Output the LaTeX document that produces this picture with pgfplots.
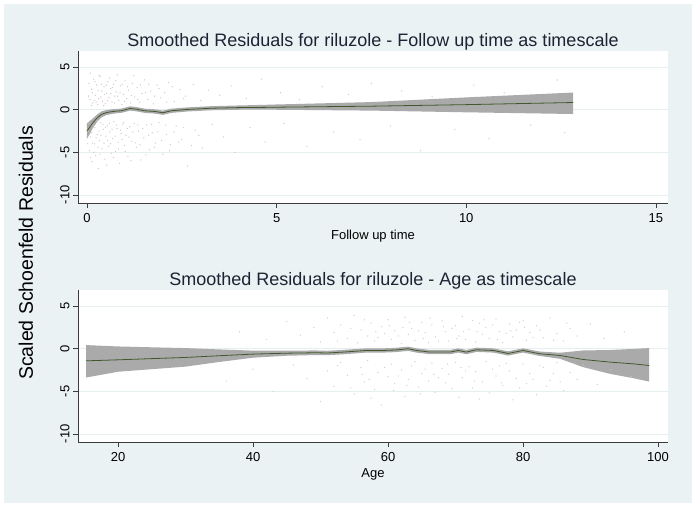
\documentclass[border=0pt]{standalone}
\usepackage{pgfplots}
\pgfplotsset{compat=1.18}
\usepackage{fontspec}
\setmainfont{Liberation Sans}
\definecolor{bgc}{RGB}{234,242,243}
\definecolor{gridc}{RGB}{230,238,240}
\definecolor{axc}{RGB}{60,60,60}
\definecolor{titlec}{RGB}{28,36,52}
\definecolor{linec}{RGB}{66,88,44}
\definecolor{bandc}{RGB}{170,170,170}
\definecolor{dotA}{RGB}{212,196,206}
\definecolor{dotB}{RGB}{204,208,200}

\pgfplotsset{
  dots/.style={only marks, mark=*, mark size=0.35pt, color=#1, mark options={draw=none, fill=#1}},
  common/.style={
    anchor=south west, width=590pt, height=152pt, scale only axis,
    ymin=-10.95, ymax=6.9, ytick={-10,-5,0,5},
    axis x line*=bottom, axis y line*=left,
    axis line style={draw=axc, line width=0.6pt, -},
    tick style={draw=axc, line width=0.6pt},
    tick align=outside, major tick length=5pt,
    ymajorgrids, grid style={gridc, line width=0.8pt},
    axis background/.style={fill=white},
    /pgf/number format/assume math mode=true,
    ticklabel style={font=\fontsize{13}{15}\selectfont, text=black},
    yticklabel style={rotate=90, anchor=south},
    xticklabel style={anchor=north, yshift=-2pt},
    title style={font=\fontsize{18}{21}\selectfont, text=titlec, anchor=base, yshift=-2pt},
    xlabel style={font=\fontsize{13}{15}\selectfont, text=black},
  }
}

\begin{document}
\begin{tikzpicture}
\useasboundingbox (0pt,0pt) rectangle (696pt,508pt);
\fill[white] (0pt,0pt) rectangle (696pt,508pt);
\fill[bgc] (4pt,5pt) rectangle (692pt,504pt);

\begin{axis}[common, at={(78pt,305pt)}, xmin=-0.237, xmax=15.32, xtick={0,5,10,15},
  title={Smoothed Residuals for riluzole - Follow up time as timescale},
  xlabel={Follow up time}]
\addplot[dots=dotA] coordinates {
(0.05,3.1)(0.08,1.2)(0.12,2.4)(0.15,0.8)(0.18,3.6)(0.22,1.7)(0.25,2.9)(0.28,0.6)(0.31,1.3)(0.35,3.9)(0.38,2.2)(0.41,1.0)(0.45,2.7)(0.48,0.7)(0.52,1.9)(0.55,3.3)(0.58,1.4)(0.62,2.5)(0.66,0.9)(0.7,3.0)(0.73,1.6)(0.77,2.1)(0.8,4.1)(0.84,1.1)(0.88,2.8)(0.92,0.6)(0.96,1.8)(1.0,3.4)(1.05,1.3)(1.1,2.3)(1.15,0.8)(1.2,3.1)(1.26,1.5)(1.32,2.6)(1.38,0.9)(1.45,1.9)(1.52,3.5)(1.6,1.2)(1.68,2.2)(1.75,0.7)(1.85,2.9)(1.95,1.4)(2.05,2.0)(2.15,3.2)(2.3,1.0)(2.45,2.4)(2.6,1.6)(2.8,3.0)(3.0,1.1)(3.2,2.3)(3.5,1.7)(3.8,2.8)(4.2,1.3)(4.6,3.6)(5.1,2.0)(5.6,1.2)(6.2,2.7)(6.9,1.8)(7.5,3.1)(8.3,2.2)(9.1,1.5)(10.2,2.9)(11.0,2.0)(12.4,3.5)
(0.04,1.6)(0.09,4.3)(0.11,0.5)(0.14,2.0)(0.19,1.1)(0.21,3.3)(0.24,0.9)(0.29,2.3)(0.32,4.0)(0.37,1.5)(0.39,3.0)(0.44,0.5)(0.46,1.8)(0.51,2.9)(0.54,1.1)(0.59,3.7)(0.63,1.9)(0.67,2.6)(0.72,0.8)(0.76,3.4)(0.81,1.6)(0.87,2.0)(0.93,3.0)(0.99,1.0)(1.07,2.7)(1.17,1.7)(1.23,4.0)(1.34,1.2)(1.41,2.9)(1.55,2.0)(1.63,3.0)(1.78,1.6)(1.9,2.5)(2.1,0.9)(2.25,2.7)(2.55,1.3)
(0.03,-2.5)(0.06,-4.8)(0.1,-3.2)(0.13,-6.1)(0.16,-1.8)(0.2,-4.0)(0.23,-5.4)(0.27,-2.9)(0.3,-6.9)(0.33,-3.6)(0.36,-1.5)(0.4,-4.6)(0.43,-2.3)(0.47,-5.8)(0.5,-3.1)(0.53,-1.9)(0.57,-4.3)(0.6,-2.6)(0.64,-5.1)(0.68,-3.4)(0.71,-1.4)(0.75,-4.9)(0.79,-2.2)(0.82,-3.8)(0.86,-6.3)(0.9,-2.8)(0.94,-1.7)(0.98,-4.2)(1.03,-3.0)(1.08,-5.5)(1.13,-2.0)(1.18,-3.7)(1.24,-1.6)(1.3,-4.4)(1.36,-2.5)(1.42,-5.9)(1.5,-3.3)(1.57,-1.8)(1.65,-4.7)(1.72,-2.7)(1.8,-3.9)(1.9,-1.5)(2.0,-5.2)(2.1,-2.9)(2.2,-4.1)(2.35,-1.9)(2.5,-3.5)(2.65,-6.6)(2.85,-2.4)(3.05,-4.5)(3.3,-1.7)(3.6,-3.2)(3.9,-5.0)(4.3,-2.1)(4.7,-3.8)(5.2,-1.6)(5.8,-4.3)(6.5,-2.6)(7.2,-3.5)(8.0,-1.9)(8.8,-4.8)(9.7,-2.3)(10.6,-3.4)(11.7,-1.8)(12.6,-2.7)
(0.02,-4.0)(0.05,-1.6)(0.09,-5.6)(0.11,-2.7)(0.14,-3.9)(0.17,-5.0)(0.21,-2.1)(0.24,-3.3)(0.26,-1.3)(0.29,-4.4)(0.32,-2.5)(0.34,-5.2)(0.37,-3.0)(0.42,-1.7)(0.45,-3.9)(0.49,-2.1)(0.52,-6.5)(0.55,-3.6)(0.59,-1.6)(0.62,-4.0)(0.66,-2.3)(0.7,-5.6)(0.74,-3.1)(0.78,-1.8)(0.83,-4.6)(0.88,-2.4)(0.93,-3.5)(0.97,-1.5)(1.01,-4.9)(1.06,-2.2)(1.11,-3.2)(1.16,-6.0)(1.21,-2.6)(1.27,-3.9)(1.34,-1.8)(1.4,-4.1)(1.47,-2.2)(1.55,-5.3)(1.62,-3.0)(1.7,-1.7)(1.78,-4.4)(1.87,-2.6)(1.97,-3.6)(2.08,-1.8)(2.18,-4.8)(2.3,-2.6)(2.42,-3.8)(2.55,-2.1)(2.75,-4.2)(2.95,-3.0)
};
% confidence band: lower bound left to right, then upper bound right to left
\addplot[fill=bandc, draw=none] coordinates {
(0.00,-3.40)(0.08,-2.80)(0.16,-2.10)(0.27,-1.40)(0.38,-0.90)(0.50,-0.65)(0.64,-0.50)(0.80,-0.40)(0.90,-0.37)(1.05,-0.20)(1.13,-0.10)(1.30,-0.18)(1.52,-0.37)(1.79,-0.45)(2.00,-0.60)(2.22,-0.37)(2.66,-0.20)(3.28,-0.06)(3.98,0.00)(4.69,0.02)(5.00,0.00)(7.50,-0.10)(10.00,-0.30)(12.82,-0.50)
(12.82,2.02)(10.00,1.45)(7.50,0.90)(5.00,0.62)(4.69,0.58)(3.98,0.50)(3.28,0.42)(2.66,0.28)(2.22,0.13)(2.00,-0.10)(1.79,0.05)(1.52,0.13)(1.30,0.32)(1.13,0.40)(1.05,0.30)(0.90,0.13)(0.80,0.10)(0.64,0.05)(0.50,-0.05)(0.38,-0.20)(0.27,-0.55)(0.16,-1.00)(0.08,-1.30)(0.00,-1.60)
};
\addplot[linec, line width=0.8pt] coordinates {
(0.00,-2.50)(0.08,-2.00)(0.16,-1.50)(0.27,-0.95)(0.38,-0.55)(0.50,-0.35)(0.64,-0.23)(0.80,-0.15)(0.90,-0.12)(1.05,0.05)(1.13,0.15)(1.30,0.07)(1.52,-0.12)(1.79,-0.20)(2.00,-0.35)(2.22,-0.12)(2.66,0.04)(3.28,0.18)(3.98,0.25)(4.69,0.28)(5.00,0.30)(7.50,0.42)(10.00,0.60)(12.82,0.85)
};
\end{axis}

\begin{axis}[common, at={(78pt,66pt)}, xmin=14.07, xmax=101.48, xtick={20,40,60,80,100},
  title={Smoothed Residuals for riluzole - Age as timescale},
  xlabel={Age}]
\addplot[dots=dotB] coordinates {
(38,2.0)(42,1.1)(45,3.2)(47,1.6)(49,2.5)(50,0.8)(51,3.6)(52,1.9)(53,2.8)(54,1.2)(55,3.9)(55.5,0.7)(56,2.2)(57,1.5)(57.5,3.0)(58,0.9)(59,2.6)(59.5,1.8)(60,3.4)(60.5,1.1)(61,2.1)(62,0.6)(62.5,3.7)(63,1.7)(63.5,2.4)(64,1.0)(65,3.1)(65.5,1.9)(66,0.7)(66.5,2.8)(67,1.4)(68,3.3)(68.5,2.0)(69,0.9)(70,2.7)(70.5,1.5)(71,3.8)(71.5,1.1)(72,2.3)(73,0.8)(73.5,3.0)(74,1.7)(74.5,2.5)(75,1.2)(76,3.5)(76.5,2.0)(77,0.7)(78,2.9)(78.5,1.4)(79,2.2)(80,3.3)(80.5,1.0)(81,1.9)(82,2.7)(83,1.3)(84,3.6)(85,1.8)(86,0.9)(87,2.4)(88,1.5)(90,2.9)(92,1.2)(95,2.0)
(52.5,0.9)(54.5,2.4)(56.5,3.4)(58.5,1.3)(60.2,2.7)(61.5,1.5)(63.2,3.1)(64.5,2.1)(66.2,3.6)(67.5,0.9)(69.5,2.4)(70.2,1.2)(72.5,3.3)(73.2,2.0)(75.5,2.8)(77.5,1.8)(79.5,3.1)(81.5,1.3)(82.5,2.2)(84.5,1.0)(86.5,3.0)(58.2,2.0)(62.2,2.5)(65.2,1.2)(68.2,2.6)(71.2,2.0)(74.2,3.4)(76.2,1.1)(78.2,2.1)(80.2,2.5)
(36,-3.8)(40,-2.4)(43,-5.0)(46,-1.9)(48,-3.5)(50,-6.2)(51,-2.6)(52,-4.4)(53,-1.6)(54,-3.1)(55,-5.3)(56,-2.2)(56.5,-3.9)(57,-1.4)(58,-4.8)(58.5,-2.8)(59,-6.6)(60,-3.3)(60.5,-1.8)(61,-4.1)(62,-2.5)(62.5,-5.6)(63,-3.6)(64,-1.5)(64.5,-4.5)(65,-2.9)(66,-3.8)(66.5,-1.7)(67,-5.1)(68,-2.3)(68.5,-4.0)(69,-3.0)(70,-1.6)(70.5,-5.7)(71,-3.4)(72,-2.1)(72.5,-4.6)(73,-2.7)(74,-3.9)(74.5,-1.5)(75,-5.2)(76,-3.2)(76.5,-2.0)(77,-4.3)(78,-2.6)(78.5,-6.0)(79,-3.5)(80,-1.8)(80.5,-4.1)(81,-2.9)(82,-5.4)(83,-2.2)(84,-3.7)(85,-1.6)(86,-4.9)(87,-2.8)(88,-3.6)(89,-1.9)(91,-4.2)(93,-2.5)(96,-3.3)
(52.5,-2.0)(54.5,-4.6)(56.2,-3.0)(57.5,-5.8)(59.5,-2.2)(60.8,-4.9)(61.5,-3.2)(63.5,-2.0)(64.8,-5.3)(65.5,-2.4)(67.5,-3.4)(68.8,-1.8)(69.5,-4.7)(71.5,-2.6)(72.8,-3.8)(73.5,-5.9)(75.5,-2.4)(76.8,-4.0)(77.5,-1.7)(79.5,-4.6)(81.5,-3.6)(82.5,-2.0)(83.5,-4.4)(84.5,-2.9)(85.5,-3.9)(87.5,-1.7)(57.2,-3.6)(62.8,-4.3)(66.8,-3.0)(70.8,-2.2)
};
\addplot[fill=bandc, draw=none] coordinates {
(15.26,-3.38)(20.00,-2.70)(25.00,-2.40)(30.00,-2.10)(35.00,-1.55)(40.00,-1.05)(45.00,-0.82)(49.40,-0.74)(51.00,-0.76)(53.40,-0.65)(56.80,-0.45)(59.30,-0.45)(61.00,-0.40)(63.00,-0.25)(64.20,-0.45)(66.20,-0.64)(69.20,-0.64)(70.40,-0.45)(71.60,-0.64)(73.10,-0.37)(75.60,-0.45)(77.80,-0.80)(80.00,-0.45)(82.50,-0.85)(85.50,-1.18)(88.90,-2.16)(92.90,-2.95)(96.30,-3.45)(98.70,-3.86)
(98.70,0.08)(96.30,-0.02)(92.90,-0.15)(88.90,-0.20)(85.50,-0.47)(82.50,-0.33)(80.00,0.05)(77.80,-0.30)(75.60,0.05)(73.10,0.13)(71.60,-0.14)(70.40,0.05)(69.20,-0.14)(66.20,-0.14)(64.20,0.05)(63.00,0.25)(61.00,0.10)(59.30,0.05)(56.80,0.05)(53.40,-0.13)(51.00,-0.24)(49.40,-0.20)(45.00,-0.22)(40.00,-0.22)(35.00,-0.08)(30.00,0.08)(25.00,0.17)(20.00,0.27)(15.26,0.43)
};
\addplot[linec, line width=0.8pt] coordinates {
(15.26,-1.42)(20.00,-1.30)(25.00,-1.16)(30.00,-1.02)(35.00,-0.82)(40.00,-0.63)(45.00,-0.52)(49.40,-0.47)(51.00,-0.50)(53.40,-0.39)(56.80,-0.20)(59.30,-0.20)(61.00,-0.15)(63.00,0.00)(64.20,-0.20)(66.20,-0.39)(69.20,-0.39)(70.40,-0.20)(71.60,-0.39)(73.10,-0.12)(75.60,-0.20)(77.80,-0.55)(80.00,-0.20)(82.50,-0.59)(85.50,-0.79)(88.90,-1.26)(92.90,-1.57)(96.30,-1.77)(98.70,-1.97)
};
\end{axis}

\node[rotate=90, font=\fontsize{19.5}{22}\selectfont, text=black] at (26pt,255pt) {Scaled Schoenfeld Residuals};
\end{tikzpicture}
\end{document}
